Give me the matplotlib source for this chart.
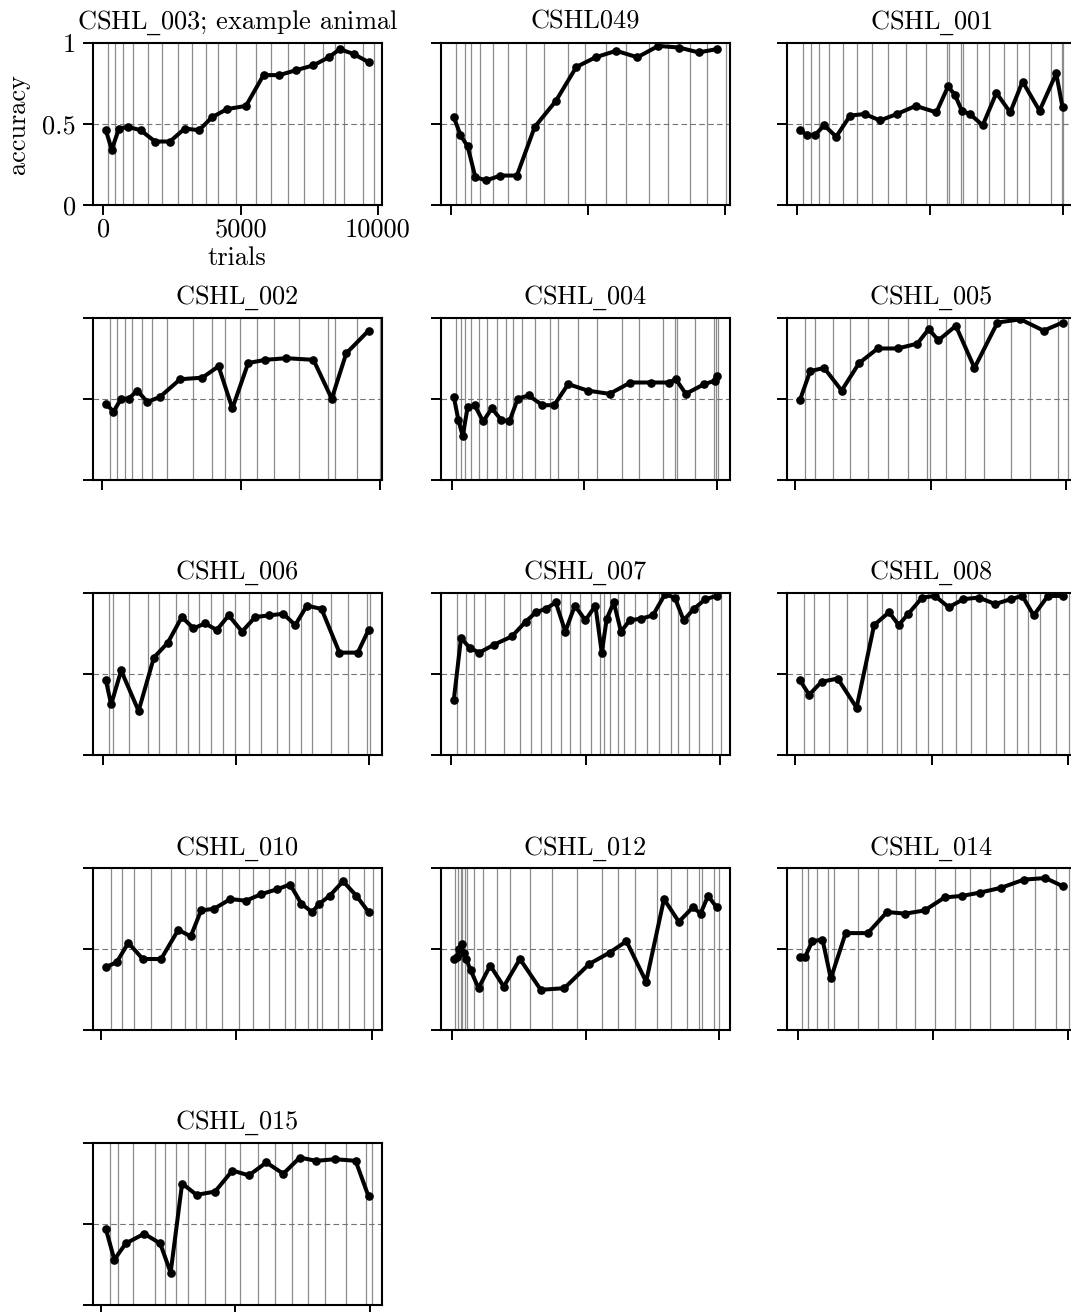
import numpy as np
import matplotlib
matplotlib.use('Agg')
import matplotlib.pyplot as plt

plt.rcParams['font.family'] = ['cmr10', 'DejaVu Serif']
# cmr10 has no real underscore glyph, so the "_" in titles goes through mathtext
plt.rcParams['mathtext.fontset'] = 'custom'
plt.rcParams['mathtext.rm'] = 'DejaVu Serif'
plt.rcParams['axes.unicode_minus'] = False

# -------------------------------------------
# session ends (cumulative trials) and accuracy per session

titles = ['CSHL_003; example animal', 'CSHL049', 'CSHL_001', 'CSHL_002', 'CSHL_004',
          'CSHL_005', 'CSHL_006', 'CSHL_007', 'CSHL_008', 'CSHL_010', 'CSHL_012',
          'CSHL_014', 'CSHL_015']

ends_003 = [184, 430, 713, 1093, 1622, 2150, 2703, 3231, 3747, 4177, 4828, 5565, 6106,
            6720, 7310, 7985, 8440, 8784, 9459, 9865]
acc_003 = [0.46, 0.34, 0.47, 0.48, 0.46, 0.39, 0.39, 0.47, 0.46, 0.54, 0.59, 0.61, 0.80,
           0.80, 0.83, 0.86, 0.91, 0.96, 0.93, 0.88]

ends_049 = [182, 487, 706, 1046, 1509, 2080, 2713, 3382, 4258, 4878, 5669, 6387, 7214,
            7920, 8735, 9343, 10049]
acc_049 = [0.54, 0.43, 0.36, 0.17, 0.15, 0.18, 0.18, 0.48, 0.64, 0.85, 0.91, 0.95, 0.91,
           0.98, 0.97, 0.94, 0.96]

ends_001 = [250, 538, 851, 1227, 1752, 2278, 2829, 3442, 4105, 4844, 5657, 5720, 6158,
            6258, 6758, 7222, 7785, 8260, 8711, 9537, 9962, 10013]
acc_001 = [0.46, 0.43, 0.43, 0.49, 0.42, 0.55, 0.56, 0.52, 0.56, 0.61, 0.57, 0.73, 0.68,
           0.58, 0.56, 0.49, 0.69, 0.57, 0.76, 0.58, 0.81, 0.60]

ends_002 = [275, 550, 825, 1089, 1447, 1806, 2344, 3266, 3947, 4426, 4940, 5562, 6172,
            7069, 8122, 8385, 9163, 9988]
acc_002 = [0.47, 0.42, 0.50, 0.50, 0.55, 0.48, 0.51, 0.62, 0.63, 0.70, 0.44, 0.72, 0.74,
           0.75, 0.74, 0.50, 0.78, 0.92]

ends_004 = [176, 340, 504, 718, 1033, 1348, 1700, 2040, 2330, 2670, 3149, 3715, 4030,
            4773, 5504, 6423, 7078, 7985, 8426, 8501, 9181, 9887, 9962, 10038]
acc_004 = [0.51, 0.37, 0.27, 0.45, 0.46, 0.36, 0.44, 0.37, 0.36, 0.50, 0.52, 0.46, 0.46,
           0.59, 0.55, 0.53, 0.60, 0.60, 0.60, 0.62, 0.53, 0.59, 0.61, 0.64]

ends_005 = [368, 761, 1399, 2049, 2687, 3423, 4160, 4871, 4994, 5583, 6282, 6957, 7975,
            8650, 9681, 10049]
acc_005 = [0.49, 0.67, 0.69, 0.55, 0.72, 0.81, 0.81, 0.84, 0.93, 0.86, 0.95, 0.69, 0.97,
           0.99, 0.92, 0.97]

ends_006 = [225, 400, 975, 1712, 2125, 2750, 3187, 3625, 4062, 4500, 4962, 5500, 5962,
            6562, 7000, 7462, 7875, 8562, 9225, 9937, 10037]
acc_006 = [0.46, 0.31, 0.52, 0.27, 0.60, 0.69, 0.85, 0.78, 0.81, 0.77, 0.86, 0.76, 0.85,
           0.86, 0.87, 0.80, 0.92, 0.90, 0.63, 0.63, 0.77]

ends_007 = [199, 534, 845, 1242, 1963, 2547, 2981, 3329, 3702, 4075, 4410, 4783, 5193,
            5528, 5665, 5901, 6186, 6435, 6845, 7280, 7714, 8174, 8447, 8832, 9205, 9689,
            10037]
acc_007 = [0.34, 0.72, 0.66, 0.63, 0.68, 0.73, 0.82, 0.88, 0.90, 0.94, 0.76, 0.92, 0.83,
           0.92, 0.63, 0.84, 0.94, 0.76, 0.83, 0.84, 0.86, 0.99, 0.97, 0.83, 0.90, 0.96,
           0.98]

ends_008 = [319, 687, 1227, 1877, 2613, 3166, 3718, 3865, 4429, 4883, 5374, 5890, 6454,
            7006, 7681, 8135, 8540, 8969, 9583, 10049]
acc_008 = [0.46, 0.37, 0.45, 0.47, 0.29, 0.80, 0.88, 0.80, 0.87, 0.97, 0.98, 0.91, 0.96,
           0.97, 0.93, 0.96, 0.98, 0.86, 0.98, 0.98]

ends_010 = [393, 799, 1253, 1867, 2604, 3133, 3526, 3894, 4484, 5098, 5639, 6204, 6806,
            7187, 7641, 7973, 8157, 8747, 9152, 9730, 10049]
acc_010 = [0.39, 0.42, 0.54, 0.44, 0.44, 0.62, 0.58, 0.74, 0.75, 0.81, 0.80, 0.84, 0.87,
           0.90, 0.78, 0.73, 0.78, 0.83, 0.92, 0.83, 0.73]

ends_012 = [113, 213, 313, 376, 476, 564, 815, 1153, 1692, 2168, 2907, 3734, 4674, 5614,
            6203, 6867, 7682, 8208, 8797, 9273, 9361, 9837, 10000]
acc_012 = [0.44, 0.45, 0.50, 0.53, 0.48, 0.44, 0.37, 0.26, 0.40, 0.27, 0.44, 0.25, 0.26,
           0.41, 0.48, 0.55, 0.30, 0.81, 0.67, 0.76, 0.72, 0.83, 0.76]

ends_014 = [160, 370, 716, 1123, 1333, 2222, 2975, 3642, 4333, 5074, 5815, 6395, 7111,
            7975, 8778, 9580, 10049]
acc_014 = [0.45, 0.45, 0.55, 0.56, 0.32, 0.60, 0.60, 0.73, 0.72, 0.74, 0.82, 0.83, 0.85,
           0.88, 0.93, 0.94, 0.89]

ends_015 = [335, 632, 1190, 2007, 2379, 2788, 3234, 3866, 4610, 5167, 5836, 6468, 7100,
            7695, 8327, 9108, 9851, 10074]
acc_015 = [0.47, 0.28, 0.38, 0.44, 0.38, 0.20, 0.75, 0.68, 0.70, 0.83, 0.80, 0.88, 0.81,
           0.91, 0.89, 0.90, 0.89, 0.67]

session_ends = [ends_003, ends_049, ends_001, ends_002, ends_004, ends_005, ends_006,
                ends_007, ends_008, ends_010, ends_012, ends_014, ends_015]
accuracies = [acc_003, acc_049, acc_001, acc_002, acc_004, acc_005, acc_006,
              acc_007, acc_008, acc_010, acc_012, acc_014, acc_015]

# -------------------------------------------
# layout in pixels

W, H = 1071, 1312
col_left = [92.7, 440.7, 786.7]
row_top = [42.7, 317.7, 592.7, 868.3, 1143.0]
ax_w, ax_h = 289.0, 162.0
fs = 19

fig = plt.figure(figsize=(W / 100, H / 100), dpi=100)

for i, (title, ends, acc) in enumerate(zip(titles, session_ends, accuracies)):
    r, c = divmod(i, 3)
    ax = fig.add_axes([col_left[c] / W, 1 - (row_top[r] + ax_h) / H, ax_w / W, ax_h / H])

    ends = np.asarray(ends, dtype=float)
    starts = np.r_[0, ends[:-1]]
    mids = (starts + ends) / 2

    ax.plot(mids, acc, '-o', color='k', lw=2.9, ms=5.2, zorder=3)
    xlim = ax.get_xlim()
    for e in ends:
        ax.axvline(e, color='0.55', lw=0.9, zorder=1)
    ax.axhline(0.5, color='0.45', ls='--', lw=0.8, dashes=(5, 3), zorder=1)
    ax.set_xlim(xlim)
    ax.set_ylim(0, 1)

    ax.set_xticks([0, 5000, 10000])
    ax.set_yticks([0, 0.5, 1])
    ax.tick_params(length=7, width=1.4, labelsize=fs)
    ax.tick_params(axis='x', pad=2.5)
    ax.tick_params(axis='y', pad=5)
    for sp in ax.spines.values():
        sp.set_linewidth(1.5)
    ax.set_title(title.replace('_', r'$\_$'), fontsize=fs, pad=10)

    if i == 0:
        ax.set_xticklabels(['0', '5000', '10000'])
        ax.set_yticklabels(['0', '0.5', '1'])
        ax.set_xlabel('trials', fontsize=fs, labelpad=3)
        ax.set_ylabel('accuracy', fontsize=fs, labelpad=8.5)
    else:
        ax.set_xticklabels([])
        ax.set_yticklabels([])

fig.savefig('out.png', dpi=100)
